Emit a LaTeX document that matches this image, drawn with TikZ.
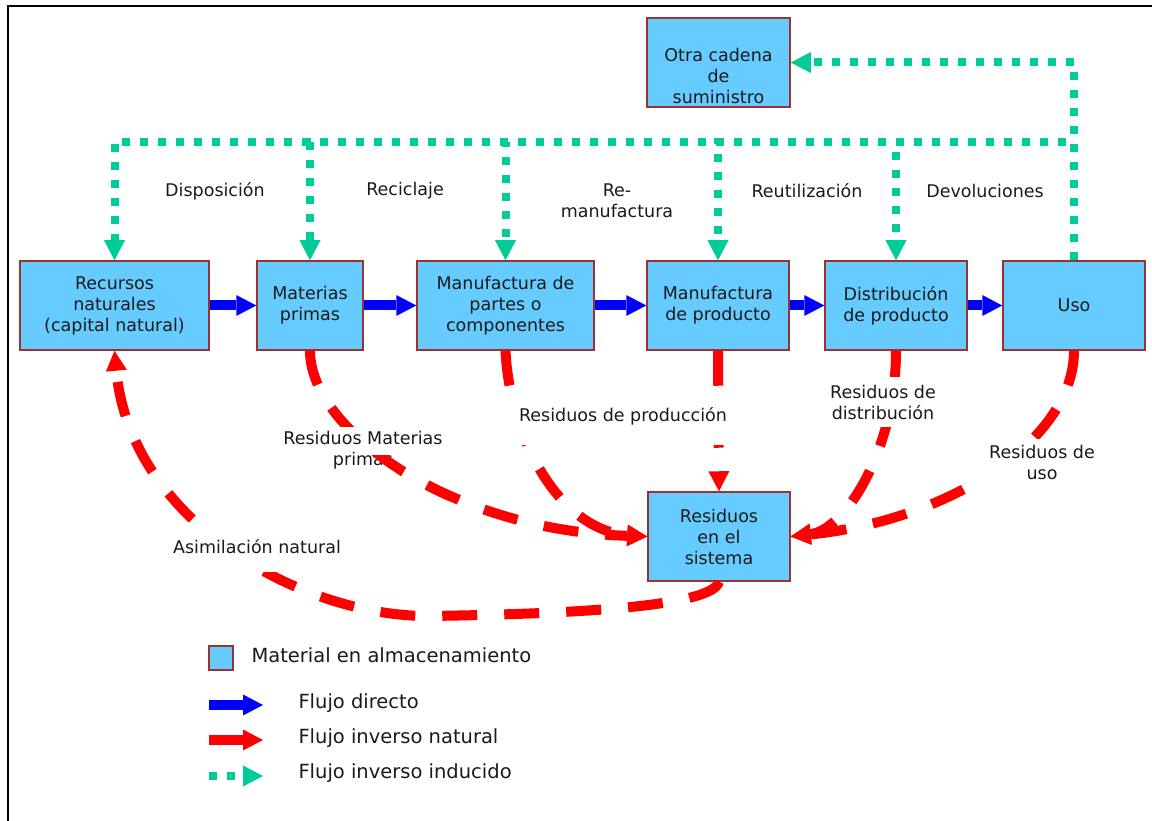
\documentclass[tikz,border=0pt]{standalone}
\usepackage{fontspec}
\setmainfont{DejaVu Sans}
\usetikzlibrary{arrows.meta}
\definecolor{boxfill}{HTML}{66CCFF}
\definecolor{boxline}{HTML}{993333}
\definecolor{indgreen}{HTML}{00CC99}
\definecolor{txt}{HTML}{1A1A1A}
\begin{document}
\begin{tikzpicture}[x=1pt,y=-1pt,
  every node/.style={font=\fontsize{17.5}{21}\selectfont, text=txt},
  box/.style={draw=boxline, fill=boxfill, line width=1.5pt, align=center, inner sep=0pt, minimum height=89pt},
  tip/.style={-{Triangle[length=20pt,width=21pt,line width=0pt]}},
  direct/.style={draw=blue, line width=10pt, tip},
  natural/.style={draw=red, line width=10pt, dash pattern=on 35pt off 27pt, tip},
  induced/.style={draw=indgreen, line width=8pt, dash pattern=on 8pt off 10pt, tip},
  lab/.style={align=center},
  wlab/.style={align=center, fill=white, inner sep=6pt},
  legtext/.style={font=\fontsize{19.5}{23}\selectfont, anchor=base west}
]
\useasboundingbox (0,0) rectangle (1152,821);
\draw[line width=1.5pt, black] (8,821) -- (8,6) -- (1152,6);

% boxes
\node[box, minimum width=189pt] (rec) at (114.5,305.5) {Recursos\\naturales\\(capital natural)};
\node[box, minimum width=106pt] (mat) at (310,305.5) {Materias\\primas};
\node[box, minimum width=177pt] (mpa) at (505.5,305.5) {Manufactura de\\partes o\\componentes};
\node[box, minimum width=142pt] (mpr) at (718,305.5) {Manufactura\\de producto};
\node[box, minimum width=142pt] (dis) at (896,305.5) {Distribución\\de producto};
\node[box, minimum width=142pt] (uso) at (1074,305.5) {Uso};
\node[box, minimum width=143pt] (otra) at (718.5,62.5) {};
\node[lab] (otratxt) at (718.5,75.5) {Otra cadena\\de\\suministro};
\node[box, minimum width=142pt] (res) at (719,536.5) {Residuos\\en el\\sistema};

% direct flow
\draw[direct] (rec.east) -- (mat.west);
\draw[direct] (mat.east) -- (mpa.west);
\draw[direct] (mpa.east) -- (mpr.west);
\draw[direct] (mpr.east) -- (dis.west);
\draw[direct] (dis.east) -- (uso.west);

% induced reverse flow
\coordinate (hl) at (0,142);
\draw[induced] (uso.north) |- (otra.east);
\foreach \b in {rec,mat,mpa,mpr,dis}{
  \draw[induced] (uso.north) -- (uso.north |- hl) -| (\b.north);
}
\node (ldisp) at (215,191) {Disposición};
\node (lrec) at (405,191) {Reciclaje};
\node[lab] (lrem) at (617,201) {Re-\\manufactura};
\node (lreu) at (807,191) {Reutilización};
\node (ldev) at (985,191) {Devoluciones};

% natural reverse flow
\draw[natural] (mat.south) .. controls (310,430) and (450,530) .. (res.west);
\draw[natural] (mpa.south) .. controls (510,440) and (560,530) .. (res.west);
\draw[natural] (mpr.south) -- (res.north);
\draw[natural] (dis.south) .. controls (896,450) and (845,530) .. (res.east);
\draw[natural] (uso.south) .. controls (1074,440) and (950,520) .. (res.east);
\draw[natural] (res.south) .. controls (712,608) and (560,614) .. (430,616)
   .. controls (300,617) and (130,520) .. (rec.south);

\node[wlab, inner xsep=12pt, inner ysep=20pt] (lprod) at (623,416) {Residuos de producción};
\node[wlab, inner sep=8pt] (ldist) at (883,402) {Residuos de\\distribución};
\node[wlab] (luso) at (1042,462) {Residuos de\\uso};
\node[wlab, inner sep=4pt] (lmat) at (363,450) {Residuos Materias\\primas};
\begin{scope}
  \clip (365,455) rectangle (470,500);
  \draw[natural] (mat.south) .. controls (310,430) and (450,530) .. (res.west);
\end{scope}
\node[wlab, inner xsep=6pt, inner ysep=18pt] (lasim) at (257,547) {Asimilación natural};

% legend
\node[box, minimum width=24pt, minimum height=24pt] (legbox) at (221,658) {};
\node[legtext] (leg1) at (248,662) {Material en almacenamiento};
\coordinate (la1) at (209,705); \coordinate (lb1) at (263,705);
\draw[direct] (la1) -- (lb1);
\node[legtext] (leg2) at (295,708) {Flujo directo};
\coordinate (la2) at (209,740); \coordinate (lb2) at (263,740);
\draw[natural, solid] (la2) -- (lb2);
\node[legtext] (leg3) at (295,743) {Flujo inverso natural};
\coordinate (la3) at (209,776); \coordinate (lb3) at (263,776);
\draw[induced] (la3) -- (lb3);
\node[legtext] (leg4) at (295,778) {Flujo inverso inducido};
\end{tikzpicture}
\end{document}
